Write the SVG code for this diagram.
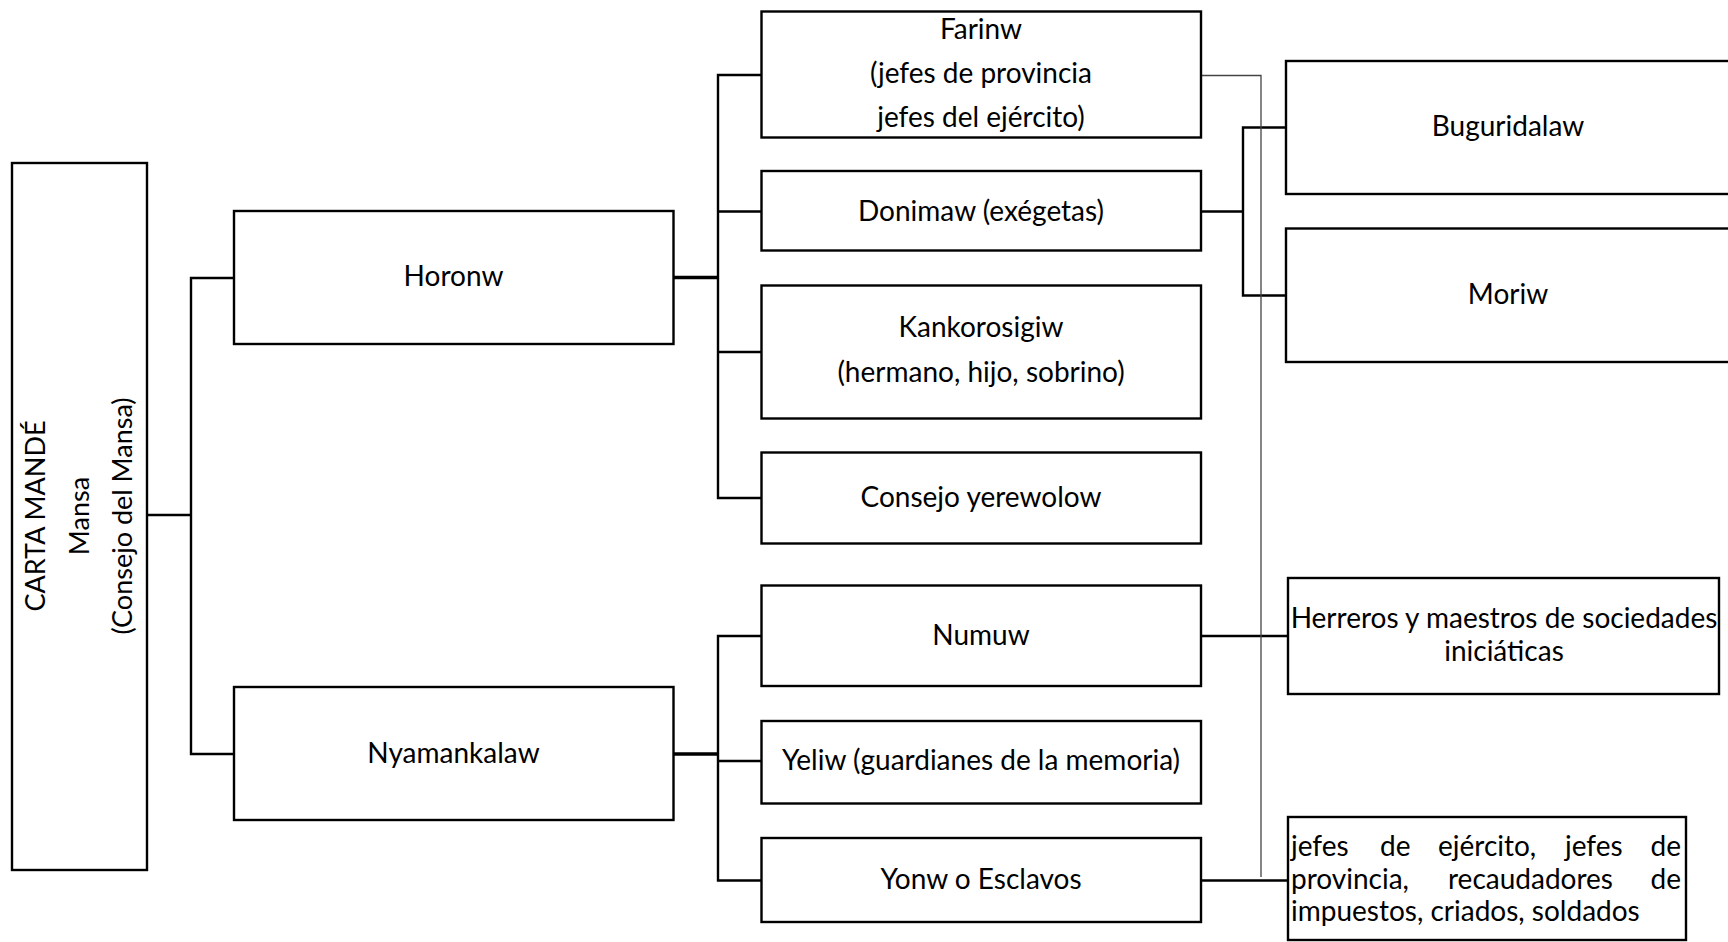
<svg xmlns="http://www.w3.org/2000/svg" width="1728" height="942" viewBox="0 0 1728 942">
<style>
.box{fill:#fff;stroke:#000;stroke-width:2.4}
.t{font-family:Lato,"Liberation Sans",sans-serif;font-size:28px;fill:#000}
.r{font-size:27px}
.c{text-anchor:middle}
.e{text-anchor:end}
.ln{fill:none;stroke:#000;stroke-width:2.4}
.thick{fill:none;stroke:#000;stroke-width:3.6}
.thin{fill:none;stroke:#444;stroke-width:1.3}
</style>
<rect width="1728" height="942" fill="#fff"/>
<g id="connectors">
<path class="ln" d="M147,515 H191 M234,278 H191 V754 H234"/>
<path class="thick" d="M673,277.5 H718 M673,754 H718"/>
<path class="ln" d="M761.5,75 H718 V498 H761.5 M718,211.5 H761.5 M718,352 H761.5"/>
<path class="ln" d="M761.5,636 H718 V880.5 H761.5 M718,761 H761.5"/>
<path class="ln" d="M1201,211.5 H1243 M1286,127.5 H1243 V295.5 H1286"/>
<path class="ln" d="M1201,636 H1288 M1201,880.5 H1288"/>
<path class="thin" d="M1201,75.5 H1261 V877"/>
</g>
<g id="mansa">
<rect class="box" x="12" y="163" width="135" height="707"/>
<g transform="translate(0,516) rotate(-90)">
<text class="t r c" x="0" y="45">CARTA MANDÉ</text>
<text class="t r c" x="0" y="89">Mansa</text>
<text class="t r c" x="0" y="132">(Consejo del Mansa)</text>
</g>
</g>
<g id="horonw">
<rect class="box" x="234" y="211" width="439.5" height="133"/>
<text class="t c" x="453.5" y="286">Horonw</text>
</g>
<g id="nyamankalaw">
<rect class="box" x="234" y="687" width="439.5" height="133"/>
<text class="t c" x="453.5" y="763">Nyamankalaw</text>
</g>
<g id="farinw">
<rect class="box" x="761.5" y="11.5" width="439.5" height="126"/>
<text class="t c" x="981" y="39">Farinw</text>
<text class="t c" x="981" y="83">(jefes de provincia</text>
<text class="t c" x="981" y="127">jefes del ejército)</text>
</g>
<g id="donimaw">
<rect class="box" x="761.5" y="171" width="439.5" height="79.5"/>
<text class="t c" x="981" y="221">Donimaw (exégetas)</text>
</g>
<g id="kankorosigiw">
<rect class="box" x="761.5" y="285.5" width="439.5" height="133"/>
<text class="t c" x="981" y="337">Kankorosigiw</text>
<text class="t c" x="981" y="382">(hermano, hijo, sobrino)</text>
</g>
<g id="consejo">
<rect class="box" x="761.5" y="452.5" width="439.5" height="91"/>
<text class="t c" x="981" y="507">Consejo yerewolow</text>
</g>
<g id="numuw">
<rect class="box" x="761.5" y="585.5" width="439.5" height="100.5"/>
<text class="t c" x="981" y="645">Numuw</text>
</g>
<g id="yeliw">
<rect class="box" x="761.5" y="721" width="439.5" height="82.5"/>
<text class="t c" x="981" y="770">Yeliw (guardianes de la memoria)</text>
</g>
<g id="yonw">
<rect class="box" x="761.5" y="838" width="439.5" height="84"/>
<text class="t c" x="981" y="889">Yonw o Esclavos</text>
</g>
<g id="buguridalaw">
<rect class="box" x="1286" y="61" width="460" height="133"/>
<text class="t c" x="1508" y="136">Buguridalaw</text>
</g>
<g id="moriw">
<rect class="box" x="1286" y="228.5" width="460" height="133.5"/>
<text class="t c" x="1508" y="304">Moriw</text>
</g>
<g id="herreros">
<rect class="box" x="1288" y="578" width="431" height="116"/>
<text class="t c" x="1504" y="628">Herreros y maestros de sociedades</text>
<text class="t c" x="1504" y="661">iniciáticas</text>
</g>
<g id="jefes">
<rect class="box" x="1288" y="817" width="398" height="123"/>
<text class="t" y="856"><tspan x="1291">jefes</tspan><tspan x="1380">de</tspan><tspan x="1438">ejército,</tspan><tspan x="1565">jefes</tspan></text>
<text class="t e" x="1681" y="856">de</text>
<text class="t" y="889"><tspan x="1291">provincia,</tspan><tspan x="1448">recaudadores</tspan></text>
<text class="t e" x="1681" y="889">de</text>
<text class="t" x="1291" y="921">impuestos, criados, soldados</text>
</g>
</svg>
